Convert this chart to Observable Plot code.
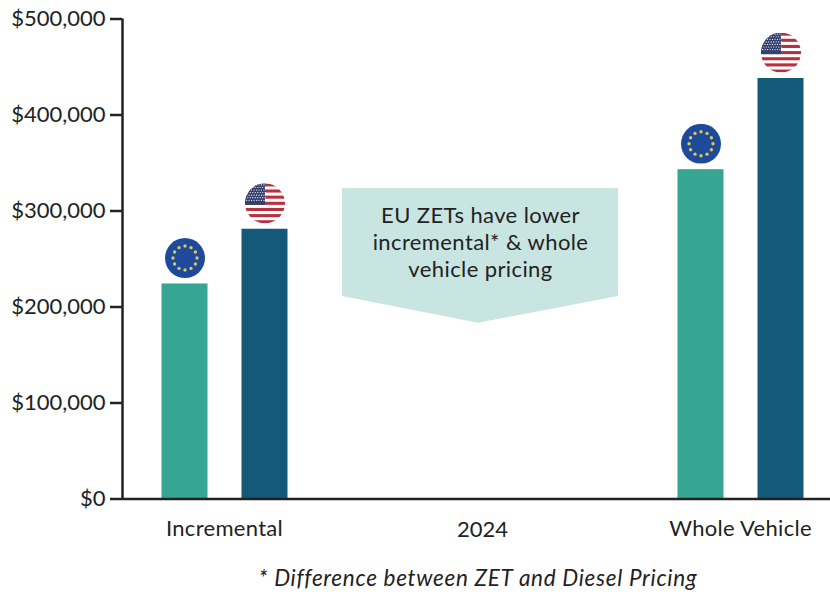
<!DOCTYPE html>
<html>
<head>
<meta charset="utf-8">
<script src="https://cdn.jsdelivr.net/npm/d3@7"></script>
<script src="https://cdn.jsdelivr.net/npm/@observablehq/plot@0.6"></script>
<style>
html,body{margin:0;padding:0;background:#fff}
#chart{width:830px;position:relative}
#chart svg{display:block;overflow:visible}
#note{width:830px;box-sizing:border-box;padding-left:126px;text-align:center;font:italic 22.5px Lato,sans-serif;letter-spacing:.7px;color:#222;margin-top:18px;line-height:24px;white-space:nowrap}
</style>
</head>
<body>
<div id="chart"></div>
<div id="note">* Difference between ZET and Diesel Pricing</div>
<script>
const groups = ["Incremental", "Whole Vehicle"];
const regions = ["EU", "US"];
const incrementalValues = [224000, 281000];
const wholeVehicleValues = [343000, 438000];
const yTicks = [0, 100000, 200000, 300000, 400000, 500000];
const centerLabel = "2024";
const calloutLines = ["EU ZETs have lower", "incremental* & whole", "vehicle pricing"];
const calloutLineValues = [295000, 267000, 239000];
const calloutTop = 323500;
const calloutShoulder = 211000;
const calloutTip = 183000;

// Layout (pixel-like units of the x scale)
const groupCenter = {"Incremental": 102, "Whole Vehicle": 618};
const regionOffset = {EU: -39.5, US: 40.5};
const barW = 46;
const colors = {EU: "#36a592", US: "#14597a"};
const ink = "#222222";
const font = "Lato, sans-serif";

const euStars = d3.range(12).map(i => {
  const a = i * Math.PI / 6;
  return `<circle cx="${50 + 30 * Math.sin(a)}" cy="${50 - 30 * Math.cos(a)}" r="4.2" fill="#d6c95a"/>`;
}).join("");
const euSvg = `<svg xmlns="http://www.w3.org/2000/svg" viewBox="0 0 100 100" width="100" height="100"><rect width="100" height="100" fill="#1f4a9c"/>${euStars}</svg>`;

const usStripes = d3.range(7).map(i =>
  `<rect x="0" y="${i * 200 / 13}" width="100" height="${100 / 13}" fill="#b8303f"/>`).join("");
const usDots = d3.range(7).flatMap(r => d3.range(8).map(c =>
  `<circle cx="${4 + c * 6.2 + (r % 2 ? 3 : 0)}" cy="${4 + r * 6.4}" r="1.5" fill="#ffffff"/>`)).join("");
const usSvg = `<svg xmlns="http://www.w3.org/2000/svg" viewBox="0 0 100 100" width="100" height="100"><rect width="100" height="100" fill="#ffffff"/>${usStripes}<rect width="50" height="${700 / 13}" fill="#33406e"/>${usDots}</svg>`;

const flags = {
  EU: "data:image/svg+xml," + encodeURIComponent(euSvg),
  US: "data:image/svg+xml," + encodeURIComponent(usSvg)
};

const rows = [];
groups.forEach((g, gi) => {
  const vals = gi === 0 ? incrementalValues : wholeVehicleValues;
  regions.forEach((r, ri) => rows.push({group: g, region: r, value: vals[ri], cx: groupCenter[g] + regionOffset[r]}));
});

const calloutX = [220, 356, 496];
const callout = [
  {x: calloutX[0], y1: calloutTop, y2: calloutShoulder},
  {x: calloutX[1], y1: calloutTop, y2: calloutTip},
  {x: calloutX[2], y1: calloutTop, y2: calloutShoulder}
];

const chart = Plot.plot({
  width: 830,
  height: 548,
  marginLeft: 122,
  marginRight: 0,
  marginTop: 18.5,
  marginBottom: 49.5,
  style: {background: "#fff", fontFamily: font, overflow: "visible"},
  x: {type: "linear", domain: [0, 708], axis: null},
  y: {domain: [0, 500000], axis: null},
  marks: [
    Plot.areaY(callout, {x: "x", y1: "y1", y2: "y2", fill: "#c9e5e1"}),
    Plot.text(calloutLines, {
      x: 358, y: (d, i) => calloutLineValues[i],
      text: d => d, fontSize: 22, fill: ink, fontFamily: font
    }),
    Plot.rectY(rows, {
      x1: d => d.cx - barW / 2, x2: d => d.cx + barW / 2,
      y1: 0, y2: "value", fill: d => colors[d.region]
    }),
    Plot.image(rows, {
      x: "cx", y: d => d.value + 27000,
      src: d => flags[d.region], r: 20, preserveAspectRatio: "xMidYMid slice"
    }),
    Plot.ruleX([0], {y1: 0, y2: 500000, stroke: ink, strokeWidth: 2.5}),
    Plot.ruleY(yTicks, {x1: -12, x2: 0, stroke: ink, strokeWidth: 2.5}),
    Plot.ruleY([0], {x1: 0, x2: 708, stroke: ink, strokeWidth: 2.5}),
    Plot.text(yTicks, {
      x: -17, y: d => d, text: d3.format("$,"), textAnchor: "end",
      fontSize: 22, fill: ink, fontFamily: font
    }),
    Plot.text(groups, {
      x: d => groupCenter[d], y: 0, dy: 30, text: d => d,
      fontSize: 22, fill: ink, fontFamily: font
    }),
    Plot.text([centerLabel], {
      x: 360, y: 0, dy: 31, text: d => d, fontSize: 22, fill: ink, fontFamily: font
    })
  ]
});
document.getElementById("chart").append(chart);

d3.select(chart).selectAll("text").each(function() {
  const t = this.textContent;
  if (calloutLines.includes(t)) this.style.letterSpacing = "0.4px";
  if (groups.includes(t)) this.style.letterSpacing = "0.3px";
});
</script>
</body>
</html>
